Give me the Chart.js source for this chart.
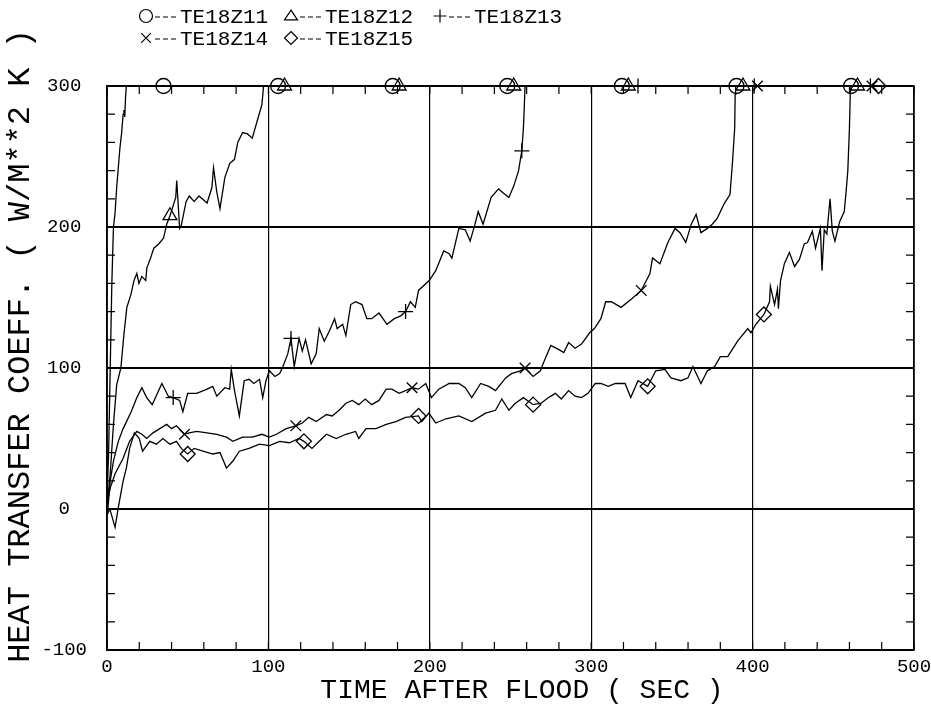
<!DOCTYPE html>
<html>
<head>
<meta charset="utf-8">
<script src="https://cdn.jsdelivr.net/npm/chart.js@4.4.1/dist/chart.umd.min.js"></script>
<style>
  html, body { margin: 0; padding: 0; background: #fff; }
  canvas { display: block; }
</style>
</head>
<body>
<canvas id="chart" width="931" height="717"></canvas>
<script>
// Heat transfer coefficient after flood, five thermocouples (W/m^2 K vs s)
const seriesNames = ['TE18Z11', 'TE18Z12', 'TE18Z13', 'TE18Z14', 'TE18Z15'];
const markerStyles = ['circle', 'triangle', 'cross', 'crossRot', 'rectRot'];

const xTicks = [0, 100, 200, 300, 400, 500];
const yTicks = [-100, 0, 100, 200, 300];
const xTitle = 'TIME AFTER FLOOD ( SEC )';
const yTitle = 'HEAT TRANSFER COEFF. ( W/M**2 K )';

// TE18Z11
const t11 = [0, 1, 2, 3, 4, 5, 6, 7, 8, 9, 10, 10.5, 11, 11.5, 12, 35, 106, 177, 248, 319, 390, 461, 500];
const h11 = [5, 40, 100, 160, 200, 210, 228, 242, 256, 266, 280, 283, 278, 292, 300, 300, 300, 300, 300, 300, 300, 300, 300];
const m11 = [35, 106, 177, 248, 319, 390, 461];

// TE18Z12
const t12 = [0, 2, 4, 6, 8.6, 10.5, 12.3, 14.8, 16.7, 18.5, 19.8, 21.6, 24, 24.7, 27, 29, 32, 35, 37, 39, 42.6, 43.2, 45, 46, 49, 51, 54, 57, 62, 65, 66, 68, 70, 73, 76, 79, 81, 84, 87, 90, 93, 96, 97, 110, 181, 252, 323, 394, 465, 500];
const h12 = [2, 25, 60, 88, 100, 124, 143, 152, 162, 167, 160, 165, 162, 171, 178, 185, 188, 192, 202, 208, 221, 233, 199, 201, 218, 222, 218, 222, 217, 228, 242, 225, 213, 235, 245, 248, 260, 267, 266, 263, 275, 287, 300, 300, 300, 300, 300, 300, 300, 300];
const m12 = [39, 110, 181, 252, 323, 394, 465];

// TE18Z13
const t13 = [0, 0.6, 2, 4, 7, 10, 15, 18.5, 21.6, 24.6, 28, 34, 38, 41, 45, 47, 50, 55.6, 62, 65.5, 68, 73, 76, 77, 79, 82, 85, 88, 91, 94.5, 96.5, 98.5, 100.6, 104, 107, 109, 112, 114, 116, 119, 121, 123, 126.5, 129.6, 131.5, 134.6, 137.7, 141, 142.6, 146, 148, 151, 154, 158, 161, 164, 168.5, 173.5, 178, 182, 185, 188, 191, 193, 199.6, 203.7, 208.6, 212, 213.7, 218, 222, 225, 228, 230, 233, 238, 242.6, 245.7, 249, 252, 255, 257, 258, 258.6, 259, 329, 401, 473, 500];
const h13 = [-3, 1, 20, 34, 48, 57, 69, 79, 86, 79, 74, 89, 80, 79, 77, 69, 82, 82, 85, 87, 80, 86, 85, 99, 84, 66, 91, 92, 89, 92, 79, 91, 98, 94, 96, 101, 110, 121, 101, 121, 112, 120, 103, 110, 128, 119, 126, 135, 128, 131, 123, 145, 147, 145, 135, 135, 139, 131, 135, 137, 140, 147, 143, 155, 162, 169, 183, 181, 178, 199, 198, 190, 202, 211, 202, 221, 227, 224, 221, 229, 240, 254, 270, 287, 300, 300, 300, 300, 300];
const m13 = [41, 114, 185, 257, 329, 401, 473];

// TE18Z14
const t14 = [0, 2, 5, 10, 14, 18.5, 21.6, 24.6, 28.5, 32.7, 37, 40, 43, 48, 51, 55.5, 62, 68, 74, 78, 84, 90, 96, 100.6, 105, 111, 117, 121, 125, 129.6, 136, 139.5, 143.8, 148, 152, 156, 160, 164, 168.5, 173, 176.5, 181, 185, 189, 193, 197.5, 201, 205.6, 212, 218, 222, 226, 231.5, 236.5, 240.7, 247, 250.6, 256, 259, 264, 268.5, 271.6, 275, 280, 283, 286, 290, 294, 299, 302, 306, 309, 312.5, 318.5, 325, 331, 336.4, 338, 342.6, 347.5, 352, 355, 358.6, 362, 365, 368, 372, 375, 378, 382.6, 386, 387.6, 388.9, 389.2, 389.5, 403, 474, 500];
const h14 = [3, 15, 25, 36, 48, 55, 53, 50, 54, 57, 60, 57, 59, 53, 54, 55, 54, 53, 51, 48, 51, 51, 53, 51, 53, 57, 59, 61, 65, 62, 67, 66, 70, 75, 77, 74, 78, 74, 77, 85, 85, 82, 84, 86, 85, 89, 79, 85, 89, 89, 86, 79, 89, 87, 84, 93, 96, 98, 100, 94, 98, 107, 116, 113, 111, 118, 114, 117, 125, 128, 135, 147, 147, 143, 149, 155, 167, 178, 174, 189, 199, 196, 189, 202, 209, 196, 199, 202, 206, 217, 223, 247, 270, 294, 300, 300, 300, 300];
const m14 = [48, 117, 189, 259, 331, 403, 474];

// TE18Z15
const t15 = [0, 2, 5, 7, 10, 12, 14, 17, 20, 22, 26.5, 30.6, 34.6, 39, 43, 46, 50, 54, 59.5, 65.5, 70, 74, 78, 82, 88, 94.5, 100.6, 107, 113, 119, 122, 127, 131.5, 136, 142, 148, 154, 156, 160.5, 166.7, 173, 179, 185, 193, 195, 199.4, 203.7, 210, 218, 226, 234.6, 240.7, 244.6, 249, 253, 258, 264, 269, 273.5, 277.8, 281.5, 286, 290, 294, 298, 302.5, 306, 310.5, 315, 321, 324.5, 329, 335, 340, 345.7, 349.4, 355.6, 360, 363, 368, 372, 376.5, 380, 384.6, 390.7, 397, 399, 402, 407, 410.5, 411, 413.6, 415.4, 416, 417.3, 419.7, 422.8, 426, 429, 432, 434, 437, 439, 442, 443, 444.4, 446, 448, 449.4, 451, 454, 456.8, 458, 459, 460, 460.5, 461, 478, 500];
const h15 = [-2, -1, -13, 1, 20, 29, 43, 54, 50, 41, 48, 46, 50, 46, 48, 43, 39, 43, 41, 39, 40, 29, 34, 41, 43, 46, 45, 48, 47, 50, 48, 43, 48, 53, 50, 53, 55, 50, 57, 57, 60, 62, 65, 66, 62, 68, 61, 64, 66, 62, 68, 70, 78, 70, 75, 79, 74, 75, 79, 82, 78, 84, 80, 79, 82, 89, 89, 87, 89, 89, 79, 91, 87, 98, 99, 93, 91, 93, 101, 89, 98, 101, 108, 108, 119, 128, 125, 131, 138, 147, 158, 145, 156, 142, 162, 174, 182, 172, 177, 188, 189, 197, 185, 199, 169, 198, 195, 220, 197, 190, 204, 211, 226, 240, 270, 294, 300, 300, 300];
const m15 = [50, 122, 193, 264, 335, 407, 478];

const times = [t11, t12, t13, t14, t15];
const values = [h11, h12, h13, h14, h15];
const markTimes = [m11, m12, m13, m14, m15];

const FONT = '"Liberation Mono", "DejaVu Sans Mono", monospace';

function drawMarker(ctx, style, x, y, r) {
  ctx.beginPath();
  if (style === 'circle') {
    ctx.arc(x, y, r, 0, Math.PI * 2);
  } else if (style === 'triangle') {
    const h = r * 1.5;
    ctx.moveTo(x, y - h * 0.6);
    ctx.lineTo(x + r, y + h * 0.4);
    ctx.lineTo(x - r, y + h * 0.4);
    ctx.closePath();
  } else if (style === 'cross') {
    ctx.moveTo(x - r, y); ctx.lineTo(x + r, y);
    ctx.moveTo(x, y - r); ctx.lineTo(x, y + r);
  } else if (style === 'crossRot') {
    const d = r * 0.75;
    ctx.moveTo(x - d, y - d); ctx.lineTo(x + d, y + d);
    ctx.moveTo(x + d, y - d); ctx.lineTo(x - d, y + d);
  } else if (style === 'rectRot') {
    ctx.moveTo(x, y - r); ctx.lineTo(x + r, y);
    ctx.lineTo(x, y + r); ctx.lineTo(x - r, y);
    ctx.closePath();
  }
  ctx.stroke();
}

// Legend in two rows above the plot (symbol, dashes, name) and the axis titles
const legendSlots = [[146, 16], [291, 16], [440, 16], [146, 38], [291, 38]];
const plotterText = {
  id: 'plotterText',
  afterDraw(chart) {
    const ctx = chart.ctx;
    ctx.save();
    ctx.strokeStyle = '#000';
    ctx.fillStyle = '#000';
    ctx.lineWidth = 1.2;
    ctx.font = '21px ' + FONT;
    ctx.textBaseline = 'middle';
    ctx.textAlign = 'left';
    seriesNames.forEach((name, i) => {
      const [x, y] = legendSlots[i];
      drawMarker(ctx, markerStyles[i], x, y, 6.5);
      ctx.beginPath();
      for (let k = 0; k < 3; k++) {
        const x0 = x + 9 + k * 8;
        ctx.moveTo(x0, y + 1); ctx.lineTo(x0 + 5, y + 1);
      }
      ctx.stroke();
      ctx.fillText(name, x + 34, y + 1);
    });

    ctx.textAlign = 'center';
    ctx.font = '28px ' + FONT;
    ctx.fillText(xTitle, 522, 691);

    ctx.font = '32px ' + FONT;
    ctx.translate(21, 346);
    ctx.rotate(-Math.PI / 2);
    ctx.fillText(yTitle, 0, 0);
    ctx.restore();
  }
};

// Short inward ticks every 20 units on all four sides of the frame
const frameTicks = {
  id: 'frameTicks',
  afterDatasetsDraw(chart) {
    const { ctx, chartArea: a, scales: { x, y } } = chart;
    const len = 8;
    ctx.save();
    ctx.strokeStyle = '#000';
    ctx.lineWidth = 1.2;
    ctx.beginPath();
    for (let v = x.min; v <= x.max; v += 20) {
      const px = x.getPixelForValue(v);
      ctx.moveTo(px, a.bottom); ctx.lineTo(px, a.bottom - len);
      ctx.moveTo(px, a.top); ctx.lineTo(px, a.top + len);
    }
    for (let v = y.min; v <= y.max; v += 20) {
      const py = y.getPixelForValue(v);
      ctx.moveTo(a.left, py); ctx.lineTo(a.left + len, py);
      ctx.moveTo(a.right, py); ctx.lineTo(a.right - len, py);
    }
    ctx.stroke();
    ctx.lineWidth = 1.5;
    ctx.strokeRect(a.left, a.top, a.right - a.left, a.bottom - a.top);
    ctx.restore();
  }
};

const datasets = seriesNames.map((name, i) => {
  const marks = new Set(markTimes[i]);
  return {
    label: name,
    data: times[i].map((t, k) => ({ x: t, y: values[i][k] })),
    borderColor: '#000',
    borderWidth: 1.3,
    tension: 0,
    fill: false,
    clip: false,
    pointStyle: markerStyles[i],
    pointBorderColor: '#000',
    pointBackgroundColor: 'rgba(0,0,0,0)',
    pointBorderWidth: 1.3,
    pointRadius: (c) => (c.raw && marks.has(c.raw.x) ? (markerStyles[i] === 'triangle' ? 8 : 7.5) : 0),
    pointHoverRadius: 0
  };
});

new Chart(document.getElementById('chart'), {
  type: 'line',
  data: { datasets },
  plugins: [plotterText, frameTicks],
  options: {
    responsive: false,
    animation: false,
    devicePixelRatio: 1,
    layout: { padding: { top: 86, right: 17, left: 0, bottom: 0 } },
    plugins: { legend: { display: false }, tooltip: { enabled: false } },
    scales: {
      x: {
        type: 'linear',
        min: xTicks[0],
        max: xTicks[xTicks.length - 1],
        afterBuildTicks: (s) => { s.ticks = xTicks.map(v => ({ value: v })); },
        afterFit: (s) => { s.height = 67; s.paddingLeft = 0; s.paddingRight = 0; },
        ticks: { color: '#000', font: { family: FONT, size: 19 }, padding: 6, maxRotation: 0 },
        grid: { color: '#000', lineWidth: 1.2, drawTicks: false },
        border: { display: true, color: '#000', width: 1.5 },
        title: { display: false, text: xTitle }
      },
      y: {
        type: 'linear',
        min: yTicks[0],
        max: yTicks[yTicks.length - 1],
        afterBuildTicks: (s) => { s.ticks = yTicks.map(v => ({ value: v })); },
        afterFit: (s) => { s.width = 107; s.paddingTop = 0; s.paddingBottom = 0; },
        ticks: { color: '#000', font: { family: FONT, size: 19 }, padding: 20, crossAlign: 'center' },
        grid: { color: '#000', lineWidth: 2, drawTicks: false },
        border: { display: true, color: '#000', width: 1.5 },
        title: { display: false, text: yTitle }
      }
    }
  }
});
</script>
</body>
</html>
